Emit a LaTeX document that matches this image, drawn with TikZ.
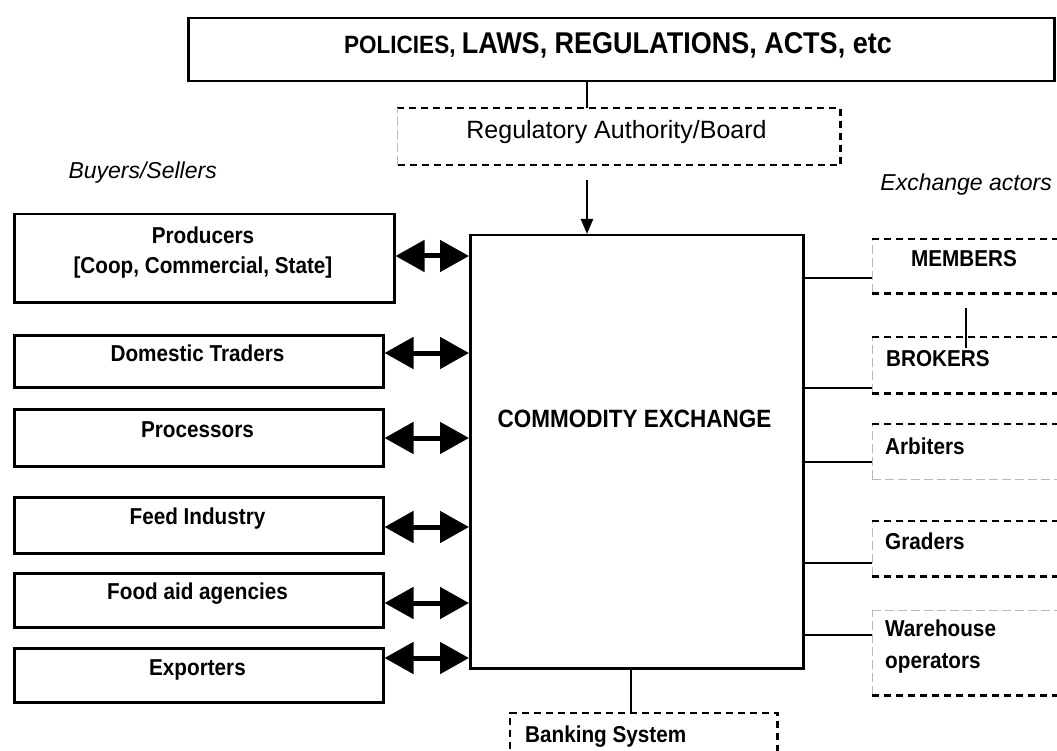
\documentclass[tikz,border=0pt]{standalone}
\usepackage{fontspec}
\setmainfont{Liberation Sans}
\newfontfamily\nb[FakeStretch=0.9]{Liberation Sans Bold}
\usetikzlibrary{arrows.meta,calc}
\tikzset{
  frame/.style={draw,line width=2.5pt,inner sep=0pt,anchor=north west},
  area/.style={inner sep=0pt,anchor=north west},
  dk/.style={line width=2.2pt,dash pattern=on 7pt off 5pt},
  lt/.style={gray!55,line width=0.9pt,dash pattern=on 9pt off 4pt},
  conn/.style={line width=2.3pt},
  dbl/.style={line width=5pt,{Triangle[length=29pt,width=31pt]}-{Triangle[length=29pt,width=31pt]}},
  bl/.style={font=\nb\fontsize{23}{27}\selectfont,inner sep=0pt,anchor=base},
  blw/.style={bl,anchor=base west},
  it/.style={font=\itshape\fontsize{23}{27}\selectfont,inner sep=0pt,anchor=base east},
}
\begin{document}
\begin{tikzpicture}[x=1pt,y=-1pt]
\clip (0,0) rectangle (1057,751);
\fill[white] (0,0) rectangle (1057,751);

% top
\node[frame,minimum width=866,minimum height=63] (law) at (187,17) {};
\node[bl,font=\nb] (lawt) at (618,54) {\fontsize{25}{30}\selectfont POLICIES, \fontsize{30}{36}\selectfont LAWS, REGULATIONS, ACTS, etc};

% regulatory
\node[area,minimum width=443,minimum height=57] (reg) at (397,108) {};
\draw[dk] (reg.north west) -- (reg.north east) -- (reg.south east) -- (reg.south west);
\draw[lt] (reg.south west) -- (reg.north west);
\node[inner sep=0pt,anchor=base,font=\fontsize{25}{30}\selectfont] (regt) at (616.5,139) {Regulatory Authority/Board};

% commodity exchange
\node[frame,minimum width=333,minimum height=433] (ce) at (469,234) {};
\node[bl,font=\nb\fontsize{25}{30}\selectfont] (cet) at (634.5,427) {COMMODITY EXCHANGE};

% labels
\node[it] (bs) at (217,179) {Buyers/Sellers};
\node[it] (ea) at (1052,190.7) {Exchange actors};

% left boxes
\node[frame,minimum width=380,minimum height=88] (prod) at (13,213) {};
\node[bl] (prodt1) at (203,244) {Producers};
\node[bl] (prodt2) at (203,273) {[Coop, Commercial, State]};
\node[frame,minimum width=369,minimum height=52] (dom) at (13,334) {};
\node[bl] (domt) at (197.5,361) {Domestic Traders};
\node[frame,minimum width=369,minimum height=57] (proc) at (13,408) {};
\node[bl] (proct) at (197.5,437.7) {Processors};
\node[frame,minimum width=369,minimum height=56] (feed) at (13,496) {};
\node[bl] (feedt) at (197.5,524) {Feed Industry};
\node[frame,minimum width=369,minimum height=54] (food) at (13,572) {};
\node[bl] (foodt) at (197.5,599) {Food aid agencies};
\node[frame,minimum width=369,minimum height=54] (exp) at (13,647) {};
\node[bl] (expt) at (197.5,675) {Exporters};

% double arrows
\draw[dbl] (prod.east |- 0,256) -- (ce.west |- 0,256);
\draw[dbl] (dom.east |- 0,353) -- (ce.west |- 0,353);
\draw[dbl] (proc.east |- 0,438) -- (ce.west |- 0,438);
\draw[dbl] (feed.east |- 0,527) -- (ce.west |- 0,527);
\draw[dbl] (food.east |- 0,603) -- (ce.west |- 0,603);
\draw[dbl] (exp.east |- 0,658) -- (ce.west |- 0,658);

% right boxes
\node[area,minimum width=203,minimum height=54] (mem) at (872,239) {};
\node[area,minimum width=203,minimum height=56] (brk) at (872,337) {};
\node[area,minimum width=203,minimum height=55] (arb) at (872,424) {};
\node[area,minimum width=203,minimum height=55] (grd) at (872,521) {};
\node[area,minimum width=203,minimum height=85] (wh) at (872,610) {};
\foreach \b in {mem,brk,arb,grd,wh} {\draw[lt] (\b.south west) -- (\b.north west);}
\draw[dk] (mem.north west) -- (mem.north east);
\draw[dk] (mem.south west) -- (mem.south east);
\draw[dk] (brk.north west) -- (brk.north east);
\draw[dk] (brk.south west) -- (brk.south east);
\draw[dk] (arb.north west) -- (arb.north east);
\draw[lt] (arb.south west) -- (arb.south east);
\draw[dk] (grd.north west) -- (grd.north east);
\draw[dk] (grd.south west) -- (grd.south east);
\draw[lt] (wh.north west) -- (wh.north east);
\draw[dk] (wh.south west) -- (wh.south east);
\node[bl] (memt) at (964,267) {MEMBERS};
\node[blw] (brkt) at (886,366.7) {BROKERS};
\node[blw] (arbt) at (885,454) {Arbiters};
\node[blw] (grdt) at (885,549) {Graders};
\node[blw] (wht1) at (885,636.7) {Warehouse};
\node[blw] (wht2) at (885,668) {operators};

% right connectors
\draw[conn] (ce.east |- 0,278) -- (mem.west |- 0,278);
\draw[conn] (ce.east |- 0,388) -- (brk.west |- 0,388);
\draw[conn] (ce.east |- 0,462) -- (arb.west |- 0,462);
\draw[conn] (ce.east |- 0,563) -- (grd.west |- 0,563);
\draw[conn] (ce.east |- 0,635) -- (wh.west |- 0,635);
\draw[conn] ($(mem.south -| 966,0)+(0,15)$) -- ($(brk.north -| 966,0)+(0,11)$);

% vertical connectors
\draw[conn] (law.south -| 587,0) -- (reg.north -| 587,0);
\draw[conn,-{Triangle[length=15pt,width=12pt]}] ($(reg.south -| 587,0)+(0,15)$) -- (ce.north -| 587,0);

% banking
\node[area,minimum width=267,minimum height=60] (bank) at (510,713) {};
\draw[dk] (bank.south west) -- (bank.north west) -- (bank.north east) -- (bank.south east);
\draw[conn] (ce.south -| 631,0) -- (bank.north -| 631,0);
\node[blw] (bankt) at (525,742) {Banking System};
\end{tikzpicture}
\end{document}
